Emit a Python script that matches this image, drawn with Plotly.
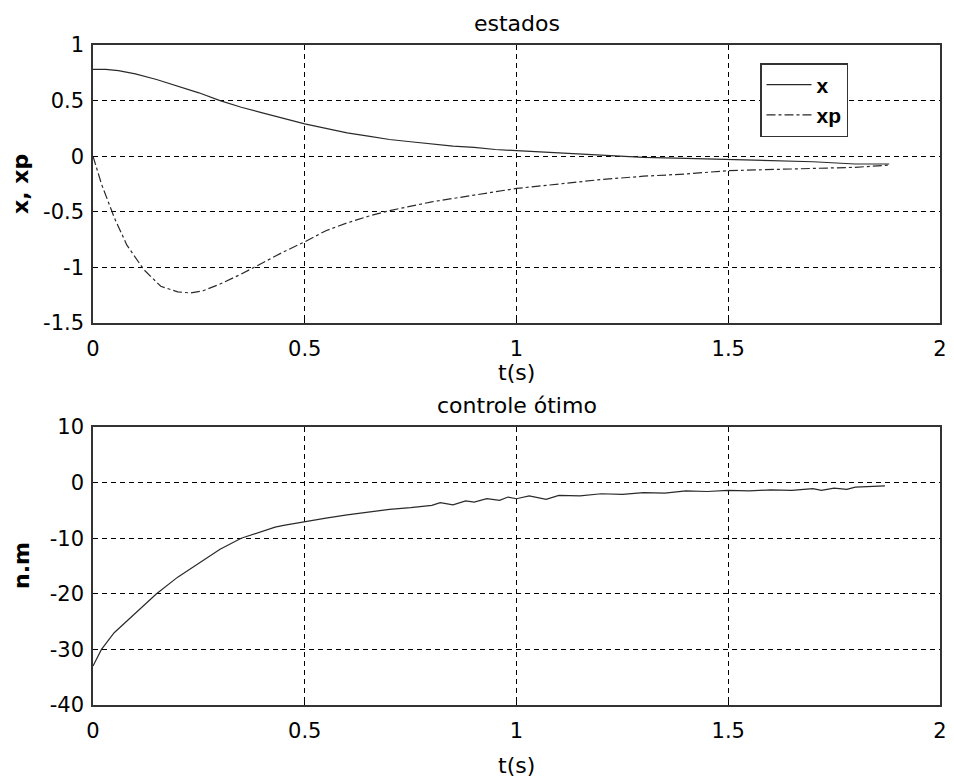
import plotly.graph_objects as go

# ---- data ----
t_state = [0.0, 0.03, 0.06, 0.1, 0.15, 0.2, 0.25, 0.3, 0.35, 0.4, 0.45, 0.5, 0.55, 0.6, 0.65,
           0.7, 0.75, 0.8, 0.85, 0.9, 0.95, 1.0, 1.1, 1.2, 1.3, 1.4, 1.5, 1.6, 1.7, 1.8, 1.88]
x_vals = [0.78, 0.78, 0.77, 0.74, 0.69, 0.63, 0.57, 0.5, 0.44, 0.39, 0.34, 0.29, 0.25, 0.21, 0.18,
          0.15, 0.13, 0.11, 0.09, 0.08, 0.06, 0.05, 0.03, 0.01, -0.01, -0.02, -0.03, -0.04, -0.05, -0.07, -0.07]

t_xp = [0.0, 0.02, 0.05, 0.08, 0.12, 0.16, 0.2, 0.23, 0.26, 0.3, 0.35, 0.4, 0.45, 0.5, 0.55, 0.6,
        0.65, 0.7, 0.75, 0.8, 0.9, 1.0, 1.1, 1.2, 1.3, 1.4, 1.5, 1.6, 1.7, 1.8, 1.88]
xp_vals = [0.0, -0.25, -0.55, -0.8, -1.02, -1.17, -1.22, -1.23, -1.21, -1.15, -1.06, -0.96, -0.86,
           -0.77, -0.67, -0.6, -0.54, -0.49, -0.45, -0.41, -0.35, -0.29, -0.25, -0.21, -0.18,
           -0.16, -0.13, -0.12, -0.11, -0.1, -0.08]

t_u = [0.0, 0.02, 0.05, 0.1, 0.15, 0.2, 0.25, 0.3, 0.35, 0.4, 0.43, 0.45, 0.5, 0.55, 0.6, 0.65,
       0.7, 0.75, 0.8, 0.82, 0.85, 0.88, 0.9, 0.93, 0.96, 0.98, 1.0, 1.03, 1.05, 1.07, 1.1, 1.15,
       1.2, 1.25, 1.3, 1.35, 1.4, 1.45, 1.5, 1.55, 1.6, 1.65, 1.7, 1.72, 1.75, 1.78, 1.8, 1.83, 1.87]
u_vals = [-33.0, -30.0, -27.0, -23.5, -20.0, -17.0, -14.5, -12.0, -10.0, -8.8, -8.0, -7.7, -7.0,
          -6.4, -5.8, -5.3, -4.8, -4.5, -4.1, -3.6, -4.0, -3.3, -3.5, -2.9, -3.2, -2.6, -2.9,
          -2.4, -2.7, -3.0, -2.3, -2.4, -2.0, -2.1, -1.8, -1.9, -1.5, -1.6, -1.4, -1.5, -1.3,
          -1.4, -1.1, -1.4, -1.0, -1.2, -0.8, -0.7, -0.6]

x_ticks = [0, 0.5, 1, 1.5, 2]
x_tick_labels = ["0", "0.5", "1", "1.5", "2"]
y1_ticks = [-1.5, -1, -0.5, 0, 0.5, 1]
y1_tick_labels = ["-1.5", "-1", "-0.5", "0", "0.5", "1"]
y2_ticks = [-40, -30, -20, -10, 0, 10]
y2_tick_labels = ["-40", "-30", "-20", "-10", "0", "10"]

FONT = "DejaVu Sans, sans-serif"
LFONT = "Liberation Sans, Arial, sans-serif"
LINE = "#2a2a2a"

fig = go.Figure()
fig.add_trace(go.Scatter(x=t_state, y=x_vals, mode="lines", name="x",
                         line=dict(color=LINE, width=1.2), xaxis="x", yaxis="y"))
fig.add_trace(go.Scatter(x=t_xp, y=xp_vals, mode="lines", name="xp",
                         line=dict(color=LINE, width=1.2, dash="dashdot"), xaxis="x", yaxis="y"))
fig.add_trace(go.Scatter(x=t_u, y=u_vals, mode="lines", name="u", showlegend=False,
                         line=dict(color=LINE, width=1.2), xaxis="x2", yaxis="y2"))

ax_common = dict(showline=True, linecolor="#333", linewidth=1.5, mirror=True,
                 ticks="inside", ticklen=5, tickcolor="black", automargin=False,
                 showgrid=True, gridcolor="black", gridwidth=1.2, griddash="5px,4px",
                 zeroline=False, tickfont=dict(family=FONT, size=21, color="black"))

fig.update_layout(
    width=954, height=784,
    paper_bgcolor="white", plot_bgcolor="white",
    margin=dict(l=93, r=14, t=45, b=79),
    showlegend=True,
    legend=dict(x=0.7875, y=0.9727, xanchor="left", yanchor="top",
                bgcolor="white", bordercolor="#333", borderwidth=1.5,
                font=dict(family=LFONT, size=21, color="black", weight="bold"),
                itemwidth=45, tracegroupgap=0),
    xaxis=dict(domain=[0, 1], anchor="y", range=[0, 2], tickvals=x_ticks,
               ticktext=x_tick_labels, ticklabelstandoff=6, **ax_common),
    yaxis=dict(domain=[0.5788, 1], anchor="x", range=[-1.5, 1], tickvals=y1_ticks,
               ticktext=y1_tick_labels, ticklabelstandoff=3, **ax_common),
    xaxis2=dict(domain=[0, 1], anchor="y2", range=[0, 2], tickvals=x_ticks,
                ticktext=x_tick_labels, ticklabelstandoff=6, **ax_common),
    yaxis2=dict(domain=[0, 0.4212], anchor="x2", range=[-40, 10], tickvals=y2_ticks,
                ticktext=y2_tick_labels, ticklabelstandoff=3, **ax_common),
)

ann_font = dict(family=FONT, size=22, color="black")
fig.add_annotation(text="estados", x=0.5, y=1.0, xref="x domain", yref="y domain",
                   yanchor="middle", yshift=22, showarrow=False, font=ann_font)
fig.add_annotation(text="t(s)", x=0.5, y=0, xref="x domain", yref="y domain",
                   yanchor="middle", yshift=-50, showarrow=False, font=ann_font)
fig.add_annotation(text="<b>x, xp</b>", x=0, y=0.5, xref="x domain", yref="y domain",
                   xanchor="center", xshift=-72, textangle=-90, showarrow=False, font=ann_font)
fig.add_annotation(text="controle ótimo", x=0.5, y=1.0, xref="x2 domain", yref="y2 domain",
                   yanchor="middle", yshift=22, showarrow=False, font=ann_font)
fig.add_annotation(text="t(s)", x=0.5, y=0, xref="x2 domain", yref="y2 domain",
                   yanchor="middle", yshift=-60, showarrow=False, font=ann_font)
fig.add_annotation(text="<b>n.m</b>", x=0, y=0.5, xref="x2 domain", yref="y2 domain",
                   xanchor="center", xshift=-72, textangle=-90, showarrow=False, font=ann_font)

fig.write_html("out.html", config={"displayModeBar": False},
               post_script="document.body.style.margin='0';document.body.style.overflow='hidden';")
